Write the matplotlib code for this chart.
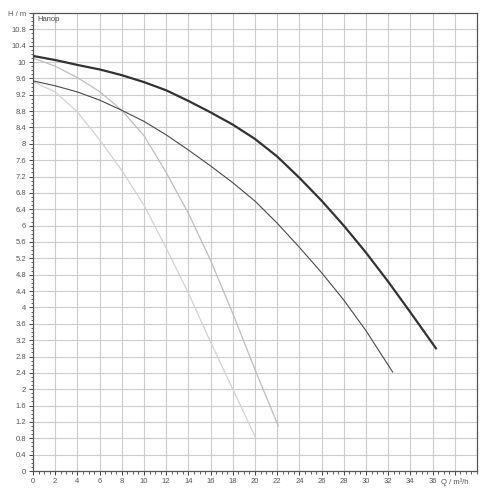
import matplotlib
matplotlib.use("Agg")
import matplotlib.pyplot as plt
from matplotlib.ticker import MultipleLocator, FixedLocator

plt.rcParams['font.family'] = ['Liberation Sans', 'DejaVu Sans']

# Curve 1 (thick, dark)
q1 = [0, 2, 4, 6, 8, 10, 12, 14, 16, 18, 20, 22, 24, 26, 28, 30, 32, 34, 36.3]
h1 = [10.15, 10.05, 9.93, 9.82, 9.68, 9.51, 9.31, 9.05, 8.77, 8.47, 8.12, 7.69, 7.17, 6.61, 6.00, 5.34, 4.63, 3.88, 3.0]
# Curve 2 (thin, dark grey)
q2 = [0, 2, 4, 6, 8, 10, 12, 14, 16, 18, 20, 22, 24, 26, 28, 30, 32, 32.4]
h2 = [9.54, 9.42, 9.27, 9.07, 8.82, 8.55, 8.22, 7.85, 7.46, 7.05, 6.60, 6.06, 5.47, 4.85, 4.18, 3.43, 2.59, 2.42]
# Curve 3 (light grey)
q3 = [0, 2, 4, 6, 8, 10, 12, 14, 16, 18, 20, 22.1]
h3 = [10.10, 9.90, 9.62, 9.28, 8.82, 8.20, 7.30, 6.30, 5.15, 3.85, 2.48, 1.10]
# Curve 4 (lightest grey)
q4 = [0, 2, 4, 6, 8, 10, 12, 14, 16, 18, 20]
h4 = [9.52, 9.27, 8.78, 8.10, 7.35, 6.50, 5.45, 4.35, 3.15, 2.00, 0.85]

x_ticks = list(range(0, 37, 2))
y_ticks = [round(0.4 * i, 1) for i in range(28)]

fig = plt.figure(figsize=(5, 5), dpi=100)
ax = fig.add_axes([0.066, 0.058, 0.888, 0.916])
ax.set_xlim(0, 40)
ax.set_ylim(0, 11.2)

grid_c = '#cccccc'
for x in list(range(2, 40, 2)):
    ax.axvline(x, color=grid_c, lw=0.8, zorder=0)
for y in [round(0.4 * i, 1) for i in range(1, 28)]:
    ax.axhline(y, color=grid_c, lw=0.8, zorder=0)

ax.plot(q4, h4, color='#d2d2d2', lw=0.9, zorder=2)
ax.plot(q3, h3, color='#bdbdbd', lw=0.9, zorder=2)
ax.plot(q2, h2, color='#4a4a4a', lw=0.8, zorder=3)
ax.plot(q1, h1, color='#333333', lw=1.6, zorder=4)

def fmt(v):
    return str(int(v)) if abs(v - round(v)) < 1e-9 else f"{v:.1f}"

ax.xaxis.set_major_locator(FixedLocator(x_ticks + [38]))
ax.set_xticklabels([fmt(v) for v in x_ticks] + ['Q / m³/h'])
ax.xaxis.set_minor_locator(MultipleLocator(0.5))
ax.yaxis.set_major_locator(FixedLocator(y_ticks + [11.2]))
ax.set_yticklabels([fmt(v) for v in y_ticks] + ['H / m'])
ax.yaxis.set_minor_locator(MultipleLocator(0.1))

ax.tick_params(axis='both', which='major', length=3, width=0.7, color='#444444',
               labelsize=5.5, labelcolor='#555555', direction='out', pad=2)
ax.tick_params(axis='both', which='minor', length=1.8, width=0.6, color='#444444', direction='out')

for s in ax.spines.values():
    s.set_color('#555555')
    s.set_linewidth(0.9)

ax.text(0.35, 11.05, 'Напор', fontsize=5.5, color='#444444', va='center', ha='left')

fig.savefig('out.png', dpi=100, facecolor='white')
